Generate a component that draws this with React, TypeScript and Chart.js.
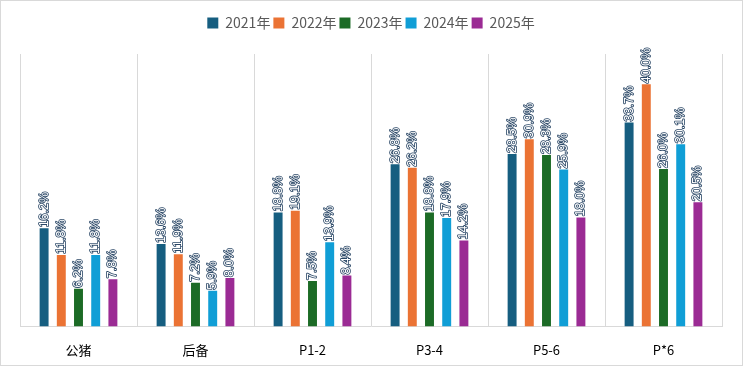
import React, { useEffect, useRef } from "react";
import { Chart, registerables } from "chart.js";

Chart.register(...registerables);

const categories = ["公猪", "后备", "P1-2", "P3-4", "P5-6", "P*6"];
const seriesNames = ["2021年", "2022年", "2023年", "2024年", "2025年"];
const v2021 = [16.2, 13.6, 18.8, 26.8, 28.5, 33.7];
const v2022 = [11.8, 11.9, 19.1, 26.2, 30.9, 40.0];
const v2023 = [6.2, 7.2, 7.5, 18.8, 28.3, 26.0];
const v2024 = [11.8, 5.9, 13.9, 17.9, 25.9, 30.1];
const v2025 = [7.8, 8.0, 8.4, 14.2, 18.0, 20.5];
const colors = ["#165e80", "#eb7334", "#1c6b26", "#109ed6", "#9b2b94"];

const legendSpace = {
  id: "legendSpace",
  beforeInit(chart: any) {
    const legend = chart.legend;
    if (!legend) return;
    const orig = legend.fit;
    legend.fit = function () {
      orig.call(this);
      this.height = 41;
    };
  },
};

const frame = {
  id: "frame",
  afterDraw(chart: any) {
    const ctx = chart.ctx;
    ctx.save();
    ctx.strokeStyle = "#d9d9d9";
    ctx.lineWidth = 1;
    ctx.strokeRect(0.5, 0.5, chart.width - 1, chart.height - 1);
    ctx.restore();
  },
};

const valueLabels = {
  id: "valueLabels",
  afterDatasetsDraw(chart: any) {
    const ctx = chart.ctx;
    ctx.save();
    ctx.font = "12.5px 'Liberation Sans'";
    ctx.textAlign = "left";
    ctx.textBaseline = "middle";
    ctx.lineJoin = "round";
    chart.data.datasets.forEach((ds: any, i: number) => {
      const meta = chart.getDatasetMeta(i);
      meta.data.forEach((bar: any, j: number) => {
        const txt = Number(ds.data[j]).toFixed(1) + "%";
        ctx.save();
        ctx.translate(bar.x, bar.y - 1);
        ctx.rotate(-Math.PI / 2);
        ctx.strokeStyle = "#2a4766";
        ctx.lineWidth = 1.6;
        ctx.strokeText(txt, 0, 0);
        ctx.fillStyle = "#ffffff";
        ctx.fillText(txt, 0, 0);
        ctx.restore();
      });
    });
    ctx.restore();
  },
};

export default function App() {
  const ref = useRef<HTMLCanvasElement | null>(null);
  useEffect(() => {
    document.body.style.margin = "0";
    const series = [v2021, v2022, v2023, v2024, v2025];
    const chart = new Chart(ref.current as HTMLCanvasElement, {
      type: "bar",
      data: {
        labels: categories,
        datasets: series.map((d, i) => ({
          label: seriesNames[i],
          data: d,
          backgroundColor: colors[i],
          borderWidth: 0,
        })),
      },
      options: {
        animation: false,
        responsive: false,
        devicePixelRatio: 1,
        datasets: { bar: { categoryPercentage: 0.735, barPercentage: 0.52 } },
        layout: { padding: { left: 20, right: 21, top: 13, bottom: -8 } },
        scales: {
          x: {
            grid: { color: "#d9d9d9", offset: true, drawTicks: false },
            border: { color: "#d9d9d9" },
            ticks: {
              color: "#000000",
              padding: 16,
              font: { family: "'Noto Sans CJK SC'", size: 13 },
            },
          },
          y: { display: false, min: 0, max: 45 },
        },
        plugins: {
          legend: {
            position: "top",
            labels: {
              boxWidth: 11,
              boxHeight: 11,
              padding: 3,
              color: "#595959",
              font: { family: "'Noto Sans CJK SC'", size: 14 },
            },
          },
          tooltip: { enabled: false },
        },
      },
      plugins: [legendSpace, valueLabels, frame],
    });
    return () => chart.destroy();
  }, []);
  return (
    <div style={{ width: 743, height: 366 }}>
      <canvas ref={ref} width={743} height={366} style={{ display: "block" }} />
    </div>
  );
}
